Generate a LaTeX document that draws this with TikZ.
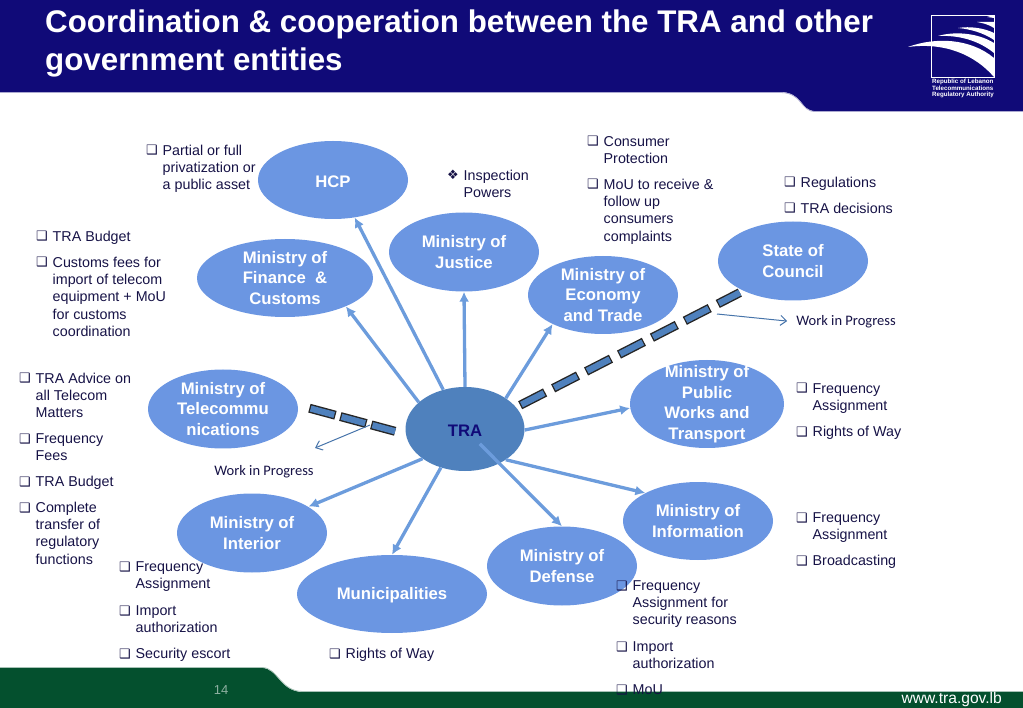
\documentclass[tikz,border=0pt]{standalone}
\usepackage{fontspec}
\setmainfont{Liberation Sans}
\newfontfamily\symfont{DejaVu Sans}
\newfontfamily\wipfont{Carlito}
\usetikzlibrary{arrows.meta,shapes.geometric}
\definecolor{banner}{RGB}{16,10,120}
\definecolor{footgreen}{RGB}{4,80,46}
\definecolor{bubble}{RGB}{107,150,226}
\definecolor{trablue}{RGB}{79,129,189}
\definecolor{spoke}{RGB}{108,156,220}
\definecolor{notetext}{RGB}{22,18,70}
\tikzset{
  ministry/.style={ellipse, fill=bubble, inner sep=-16pt, text=white, align=center,
    font=\fontsize{16.7}{20.6}\selectfont\bfseries, execute at begin node=\rule{0pt}{14.8pt}},
  note/.style={anchor=north west, inner sep=0pt, align=left, text=notetext,
    font=\fontsize{14.3}{17.3}\selectfont},
  bullet/.style={anchor=base west, inner sep=0pt, text=notetext, font=\symfont\fontsize{13}{13}\selectfont},
  wip/.style={inner sep=0pt, text=notetext, font=\wipfont\fontsize{14.5}{16}\selectfont},
  spokeline/.style={draw=spoke, line width=3.3pt, -{Latex[length=10pt,width=10pt]}},
  thinline/.style={draw=trablue!90!black, line width=1pt, -{Straight Barb[length=6pt,width=10pt]}},
  arc/.style={fill=white, draw=none}
}
% one bullet with its text: name, x, first baseline, text
\newcommand{\bnote}[5][❑]{
  \node[note] (#2) at (#3+16.5,#4-12.1) {\strut #5};
  \node[bullet] (#2-b) at (#3,#4) {#1};
}
\begin{document}
\begin{tikzpicture}[x=1pt,y=-1pt]
  \useasboundingbox (0,0) rectangle (1023,708);

  % banner and footer
  \fill[banner] (0,0) -- (1023,0) -- (1023,111) -- (815,111)
    .. controls (800,111) and (803,92) .. (780,92) -- (0,92) -- cycle;
  \draw[banner!35, line width=0.8pt] (0,92.5) -- (780,92.5) .. controls (803,92.5) and (800,111.5) .. (815,111.5) -- (1023,111.5);
  \fill[footgreen] (0,668) -- (262,668)
    .. controls (278,668) and (280,692) .. (303,692) -- (1023,692) -- (1023,708) -- (0,708) -- cycle;
  \draw[footgreen!35, line width=0.8pt] (0,667.5) -- (262,667.5) .. controls (278,667.5) and (280,691.5) .. (303,691.5) -- (1023,691.5);

  % logo
  \draw[white, line width=0.7pt] (931,15) rectangle (994,77);
  \fill[arc] (908,47) .. controls (935,37) and (970,38) .. (994,58) -- (994,77)
    .. controls (975,55) and (945,42) .. cycle;
  \fill[arc] (938,36) .. controls (955,31) and (978,33) .. (994,43) -- (994,53)
    .. controls (978,40) and (958,35) .. cycle;
  \fill[arc] (958,28) .. controls (970,26) and (984,28) .. (994,33) -- (994,40)
    .. controls (984,33) and (970,29) .. cycle;
  \fill[arc] (977,22) -- (994,22) -- (994,28) .. controls (988,24) and (982,23) .. cycle;
  \fill[arc] (987,17) -- (994,15) -- (994,18) -- cycle;
  \node[anchor=north west, inner sep=0pt, align=left, text=white, font=\fontsize{6.2}{6.4}\selectfont\bfseries] (logotext) at (932,79)
    {Republic of Lebanon\\Telecommunications\\Regulatory Authority};

  % title
  \node[anchor=north west, inner sep=0pt, align=left, text=white, font=\fontsize{31.3}{38}\selectfont\bfseries] (title) at (45,10)
    {Coordination \& cooperation between the TRA and other\\government entities};

  % bubbles
  \node[ministry, minimum width=150pt, minimum height=78pt] (hcp) at (333,180) {HCP};
  \node[ministry, minimum width=176pt, minimum height=78pt] (finance) at (285,278) {Ministry of\\Finance~~\&\\Customs};
  \node[ministry, minimum width=150pt, minimum height=79pt] (justice) at (464,252) {Ministry of\\Justice};
  \node[ministry, minimum width=150pt, minimum height=78pt] (economy) at (603,295) {Ministry of\\Economy\\and Trade};
  \node[ministry, minimum width=150pt, minimum height=79pt] (council) at (793,261) {State of\\Council};
  \node[ministry, minimum width=154pt, minimum height=88pt, execute at begin node=\rule{0pt}{17pt}] (works) at (707,404) {Ministry of\\Public\\Works and\\Transport};
  \node[ministry, minimum width=150pt, minimum height=79pt] (telecom) at (223,409) {Ministry of\\Telecommu\\nications};
  \node[ministry, minimum width=150pt, minimum height=79pt] (interior) at (252,533) {Ministry of\\Interior};
  \node[ministry, minimum width=190pt, minimum height=78pt] (munic) at (392,594) {Municipalities};
  \node[ministry, minimum width=150pt, minimum height=79pt] (defense) at (562,566) {Ministry of\\Defense};
  \node[ministry, minimum width=150pt, minimum height=78pt] (info) at (698,521) {Ministry of\\Information};
  \node[ministry, fill=trablue, text=banner, minimum width=119pt, minimum height=84pt] (tra) at (465,429) {TRA};

  % spokes: target/angle at TRA/angle at target
  \foreach \target/\from/\to in {hcp/119.3/-60.3, finance/150/-25.8, justice/90/-90,
      economy/37/210, works/-1/183, info/-37/152, munic/238/90, interior/215/25}
    \draw[spokeline] (tra.\from) -- (\target.\to);
  \draw[spokeline, shorten <=21pt] (tra.center) -- (defense.90);

  % links in progress, outlined dashes
  \foreach \from/\to/\start/\stop/\on/\off in {tra.23.3/council.211.2/4.5pt/4pt/28pt/9pt, telecom.3.2/tra.185.9/12pt/11pt/27pt/5pt}{
    \draw[black!85, line width=9pt, dash pattern=on \on off \off, shorten <=\start, shorten >=\stop] (\from) -- (\to);
    \draw[trablue, line width=6.2pt, dash pattern=on \on-2.6pt off \off+2.6pt, dash phase=-1.3pt, shorten <=\start, shorten >=\stop] (\from) -- (\to);
  }

  \node[wip] (wipright) at (846,322) {Work in Progress};
  \node[wip] (wipleft) at (264,472) {Work in Progress};
  \coordinate (wiprightfrom) at (717,314);
  \coordinate (wipleftfrom) at (370,425);
  \coordinate (wipleftto) at (315,448);
  \draw[thinline, shorten >=9pt] (wiprightfrom) -- (wipright.west);
  \draw[thinline] (wipleftfrom) -- (wipleftto);

  % notes
  \bnote{privat}{146}{155}{Partial or full\\privatization or\\a public asset}
  \bnote[❖]{powers}{447}{180}{Inspection\\Powers}
  \bnote{consumer}{587}{146}{Consumer\\Protection}
  \bnote{mou}{587}{189}{MoU to receive \&\\follow up\\consumers\\complaints}
  \bnote{regul}{784}{187}{Regulations}
  \bnote{decis}{784}{213}{TRA decisions}
  \bnote{budgeta}{36}{241}{TRA Budget}
  \bnote{customs}{36}{267}{Customs fees for\\import of telecom\\equipment + MoU\\for customs\\coordination}
  \bnote{advice}{19}{383}{TRA Advice on\\all Telecom\\Matters}
  \bnote{fees}{19}{443}{Frequency\\Fees}
  \bnote{budgetb}{19}{486}{TRA Budget}
  \bnote{transfer}{19}{512}{Complete\\transfer of\\regulatory\\functions}
  \bnote{freqa}{796}{393}{Frequency\\Assignment}
  \bnote{rightsa}{796}{436}{Rights of Way}
  \bnote{freqb}{796}{522}{Frequency\\Assignment}
  \bnote{broad}{796}{565}{Broadcasting}
  \bnote{freqc}{119}{571}{Frequency\\Assignment}
  \bnote{importa}{119}{615}{Import\\authorization}
  \bnote{escort}{119}{658}{Security escort}
  \bnote{rightsb}{329}{658}{Rights of Way}
  \bnote{freqd}{616}{590}{Frequency\\Assignment for\\security reasons}
  \bnote{importb}{616}{651}{Import\\authorization}
  \bnote{moub}{616}{694}{MoU}

  % footer texts
  \node[inner sep=0pt, text=white!55!footgreen, font=\fontsize{13}{15}\selectfont] (page) at (221,690) {14};
  \node[anchor=east, inner sep=0pt, text=white, font=\fontsize{15.6}{16}\selectfont] (web) at (1002,699) {www.tra.gov.lb};
\end{tikzpicture}
\end{document}
